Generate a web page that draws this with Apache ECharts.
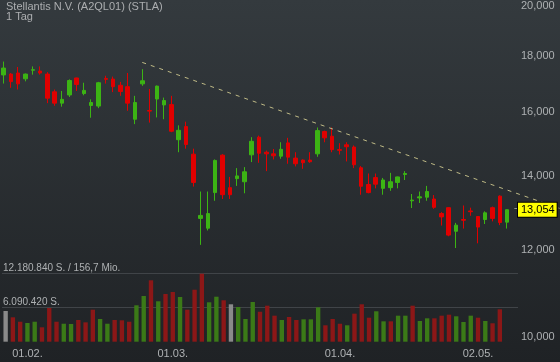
<!DOCTYPE html>
<html><head><meta charset="utf-8">
<script src="https://cdn.jsdelivr.net/npm/echarts@6/dist/echarts.min.js"></script>
<style>html,body{margin:0;padding:0;background:#26292c}#c{width:560px;height:362px}</style>
</head><body><div id="c"></div>
<script>
// ---- data ----
const dates = ['27.01.','28.01.','31.01.',
 '01.02.','02.02.','03.02.','04.02.','07.02.','08.02.','09.02.','10.02.','11.02.','14.02.','15.02.','16.02.','17.02.','18.02.','21.02.','22.02.','23.02.','24.02.','25.02.','28.02.',
 '01.03.','02.03.','03.03.','04.03.','07.03.','08.03.','09.03.','10.03.','11.03.','14.03.','15.03.','16.03.','17.03.','18.03.','21.03.','22.03.','23.03.','24.03.','25.03.','28.03.','29.03.','30.03.','31.03.',
 '01.04.','04.04.','05.04.','06.04.','07.04.','08.04.','11.04.','12.04.','13.04.','14.04.','19.04.','20.04.','21.04.','22.04.','25.04.','26.04.','27.04.','28.04.','29.04.',
 '02.05.','03.05.','04.05.','05.05.','06.05.',''];
const openP  = [17.30,17.33,17.37,17.16,17.47,17.44,17.33,16.70,16.31,16.59,17.19,16.64,16.23,16.21,17.17,17.15,16.93,16.88,15.77,16.98,16.06,16.45,16.25,16.26,15.11,15.53,14.66,12.82,12.56,13.53,14.63,13.67,13.93,13.84,14.64,15.19,14.72,14.67,14.60,15.01,14.54,14.48,14.48,14.67,15.37,15.22,14.80,14.95,14.88,14.25,13.76,13.96,13.65,13.67,13.82,14.05,13.30,13.38,13.40,13.35,12.95,13.11,12.48,12.79,13.02,12.87,12.79,13.11,13.43,12.72];
const closeP = [17.55,17.06,16.98,17.33,17.49,17.37,16.48,16.31,16.44,17.10,16.96,16.75,16.33,17.02,17.14,16.88,16.71,16.31,16.33,17.09,16.04,16.90,16.40,15.38,15.41,14.96,13.82,12.90,12.95,14.47,13.47,13.47,14.01,14.13,15.06,14.69,14.67,14.61,14.81,14.57,14.37,14.40,14.43,15.40,15.17,14.80,14.78,14.89,14.34,13.71,13.53,13.77,13.89,13.84,13.98,14.08,13.32,13.41,13.56,13.12,12.86,12.38,12.64,12.77,13.00,12.59,12.97,12.82,12.71,13.054];
const lowP   = [16.99,16.84,16.78,17.07,17.31,17.31,16.31,16.22,16.19,16.52,16.73,16.58,15.82,16.14,16.99,16.69,16.56,16.05,15.61,16.91,15.66,15.83,15.77,15.35,14.72,14.83,13.70,12.13,12.50,13.30,13.35,13.35,13.72,13.51,14.42,14.40,14.15,14.50,14.52,14.37,14.29,14.22,14.40,14.58,15.03,14.72,14.65,14.44,14.24,13.47,13.51,13.65,13.47,13.58,13.65,13.89,13.10,13.24,13.30,13.08,12.63,12.35,12.05,12.55,12.89,12.17,12.67,12.74,12.64,12.55];
const highP  = [17.79,17.37,17.59,17.35,17.61,17.61,17.40,16.78,16.73,17.14,17.20,17.02,16.44,17.05,17.27,17.24,17.05,17.37,16.56,17.51,16.80,16.92,16.50,16.56,15.57,15.69,14.83,13.56,13.56,14.50,14.66,13.98,14.24,14.27,15.19,15.24,14.77,14.82,15.03,15.17,14.72,14.50,14.72,15.50,15.40,15.50,15.00,15.03,14.93,14.30,14.08,14.08,13.95,14.10,13.99,14.15,13.49,13.56,13.72,13.46,12.99,13.12,12.70,13.17,13.11,12.88,13.01,13.14,13.45,13.06];
const volumeM = [5.50,4.37,3.58,3.35,3.58,2.58,6.04,3.58,3.22,3.17,3.89,3.47,5.73,4.07,3.22,3.89,3.83,3.58,6.52,8.19,11.0,7.24,8.54,8.90,8.01,5.73,9.31,12.18,7.06,8.06,7.42,6.70,6.22,4.07,7.11,5.37,6.45,4.66,3.89,4.42,3.89,4.01,4.01,6.16,2.94,4.07,3.22,2.94,5.02,6.70,4.30,5.45,3.65,3.65,4.66,4.66,6.45,3.71,4.19,4.19,4.66,4.84,4.55,3.53,4.66,4.30,3.71,3.30,5.80,null];
const priceTicks = [10,12,14,16,18,20];
const priceTickLabels = ['10,000','12,000','14,000','16,000','18,000','20,000'];
const dateTickLabels = ['01.02.','01.03.','01.04.','02.05.'];
const volTicks = [0, 6.09042, 12.18084];
const volTickLabels = ['', '6.090.420 S.', '12.180.840 S. / 156,7 Mio.'];
const lastPrice = 13.054;
const lastPriceLabel = '13,054';
const trendStart = [19, 17.64];
const trendEnd = [76.2, 13.05];
const titleText = 'Stellantis N.V. (A2QL01) (STLA)';
const subTitleText = '1 Tag';

// ---- chart ----
const W = 560, GRID_RIGHT = 42;
const FONT = 'Liberation Sans, Arial, sans-serif';
const UP = '#3cb414', DOWN = '#e00000';
const VUP = '#3b7a17', VDOWN = '#8c1717', VFLAT = '#8a8a8a';
const L = v => Math.log10(v);
const nCat = dates.length;
// overlay axis spanning the full width with the same scale as the category axis
const overlayMax = -0.5 + nCat * W / (W - GRID_RIGHT);

const candleData = openP.map((o, i) => [L(o), L(closeP[i]), L(lowP[i]), L(highP[i])]);
const volData = volumeM.map((v, i) => {
  if (v == null) return '-';
  let c = VFLAT;
  if (i > 0) {
    if (closeP[i] > closeP[i-1]) c = VUP;
    else if (closeP[i] < closeP[i-1]) c = VDOWN;
  }
  return { value: v, itemStyle: { color: c } };
});

const chart = echarts.init(document.getElementById('c'), null, { renderer: 'canvas' });
chart.setOption({
  animation: false,
  backgroundColor: { type: 'linear', x: 0, y: 0, x2: 0, y2: 1,
    colorStops: [{ offset: 0, color: '#343a3e' }, { offset: 1, color: '#1f2225' }] },
  title: [
    { text: titleText, left: 6, top: 1.5, padding: 0,
      textStyle: { fontSize: 11, fontWeight: 'normal', color: '#acaeb0', fontFamily: FONT } },
    { text: subTitleText, left: 6, top: 11.5, padding: 0,
      textStyle: { fontSize: 11, fontWeight: 'normal', color: '#acaeb0', fontFamily: FONT } }
  ],
  grid: [
    { left: 0, right: GRID_RIGHT, top: 1.6, bottom: 24.7 },
    { left: 0, right: GRID_RIGHT, top: 273.7, bottom: 20.3 },
    { left: 0, right: 0, top: 1.6, bottom: 24.7 }
  ],
  xAxis: [
    { type: 'category', gridIndex: 0, data: dates, boundaryGap: true, show: false },
    { type: 'category', gridIndex: 1, data: dates, boundaryGap: true,
      axisLine: { show: false }, axisTick: { show: false }, splitLine: { show: false },
      axisLabel: { interval: (i, v) => dateTickLabels.includes(v), color: '#aeb1b3',
        fontSize: 11, fontFamily: FONT, margin: 7 } },
    { type: 'value', gridIndex: 2, min: -0.5, max: overlayMax, show: false }
  ],
  yAxis: [
    { type: 'value', gridIndex: 0, position: 'right', min: L(10), max: L(20), scale: true,
      axisLine: { show: false }, axisTick: { show: false }, splitLine: { show: false },
      axisLabel: { customValues: priceTicks.map(L), margin: 3, color: '#aeb1b3',
        fontSize: 11, fontFamily: FONT, showMinLabel: true, showMaxLabel: true,
        formatter: v => { const i = priceTicks.findIndex(t => Math.abs(L(t) - v) < 1e-6); return i >= 0 ? priceTickLabels[i] : ''; } } },
    { type: 'value', gridIndex: 1, position: 'left', min: volTicks[0], max: volTicks[2], interval: volTicks[1],
      axisLine: { show: false }, axisTick: { show: false },
      splitLine: { show: true, showMinLine: false, lineStyle: { color: '#404448', width: 1 } },
      axisLabel: { inside: true, margin: 1, verticalAlign: 'bottom', color: '#aeb1b3',
        fontSize: 10, fontFamily: FONT, showMaxLabel: true,
        formatter: v => { const i = volTicks.findIndex(t => Math.abs(t - v) < 1e-6); return i >= 0 ? volTickLabels[i] : ''; } } },
    { type: 'value', gridIndex: 2, min: L(10), max: L(20), show: false }
  ],
  series: [
    { type: 'bar', xAxisIndex: 1, yAxisIndex: 1, data: volData, barWidth: '60%', silent: true },
    { type: 'candlestick', xAxisIndex: 0, yAxisIndex: 0, data: candleData, barWidth: 4, z: 3,
      itemStyle: { color: UP, color0: DOWN, borderColor: UP, borderColor0: DOWN, borderWidth: 1 } },
    { type: 'line', xAxisIndex: 2, yAxisIndex: 2, clip: false, symbol: 'none', silent: true, z: 4,
      data: [[trendStart[0], L(trendStart[1])], [trendEnd[0], L(trendEnd[1])]],
      lineStyle: { color: '#bfba86', width: 1, type: [4, 5] },
      markLine: { silent: true, symbol: ['none', 'none'], animation: false, z: 6,
        lineStyle: { color: '#8e9294', width: 1, type: 'solid' },
        label: { show: true, position: 'end', distance: 0, offset: [0, 1.5],
          formatter: lastPriceLabel,
          backgroundColor: '#ffff00', borderColor: '#000000', borderWidth: 1, color: '#000000',
          fontSize: 11, fontFamily: FONT, padding: [2, 2, 1, 3] },
        data: [[{ coord: [nCat - 1, L(lastPrice)] }, { coord: [nCat - 0.5, L(lastPrice)] }]] } }
  ]
});
</script></body></html>
